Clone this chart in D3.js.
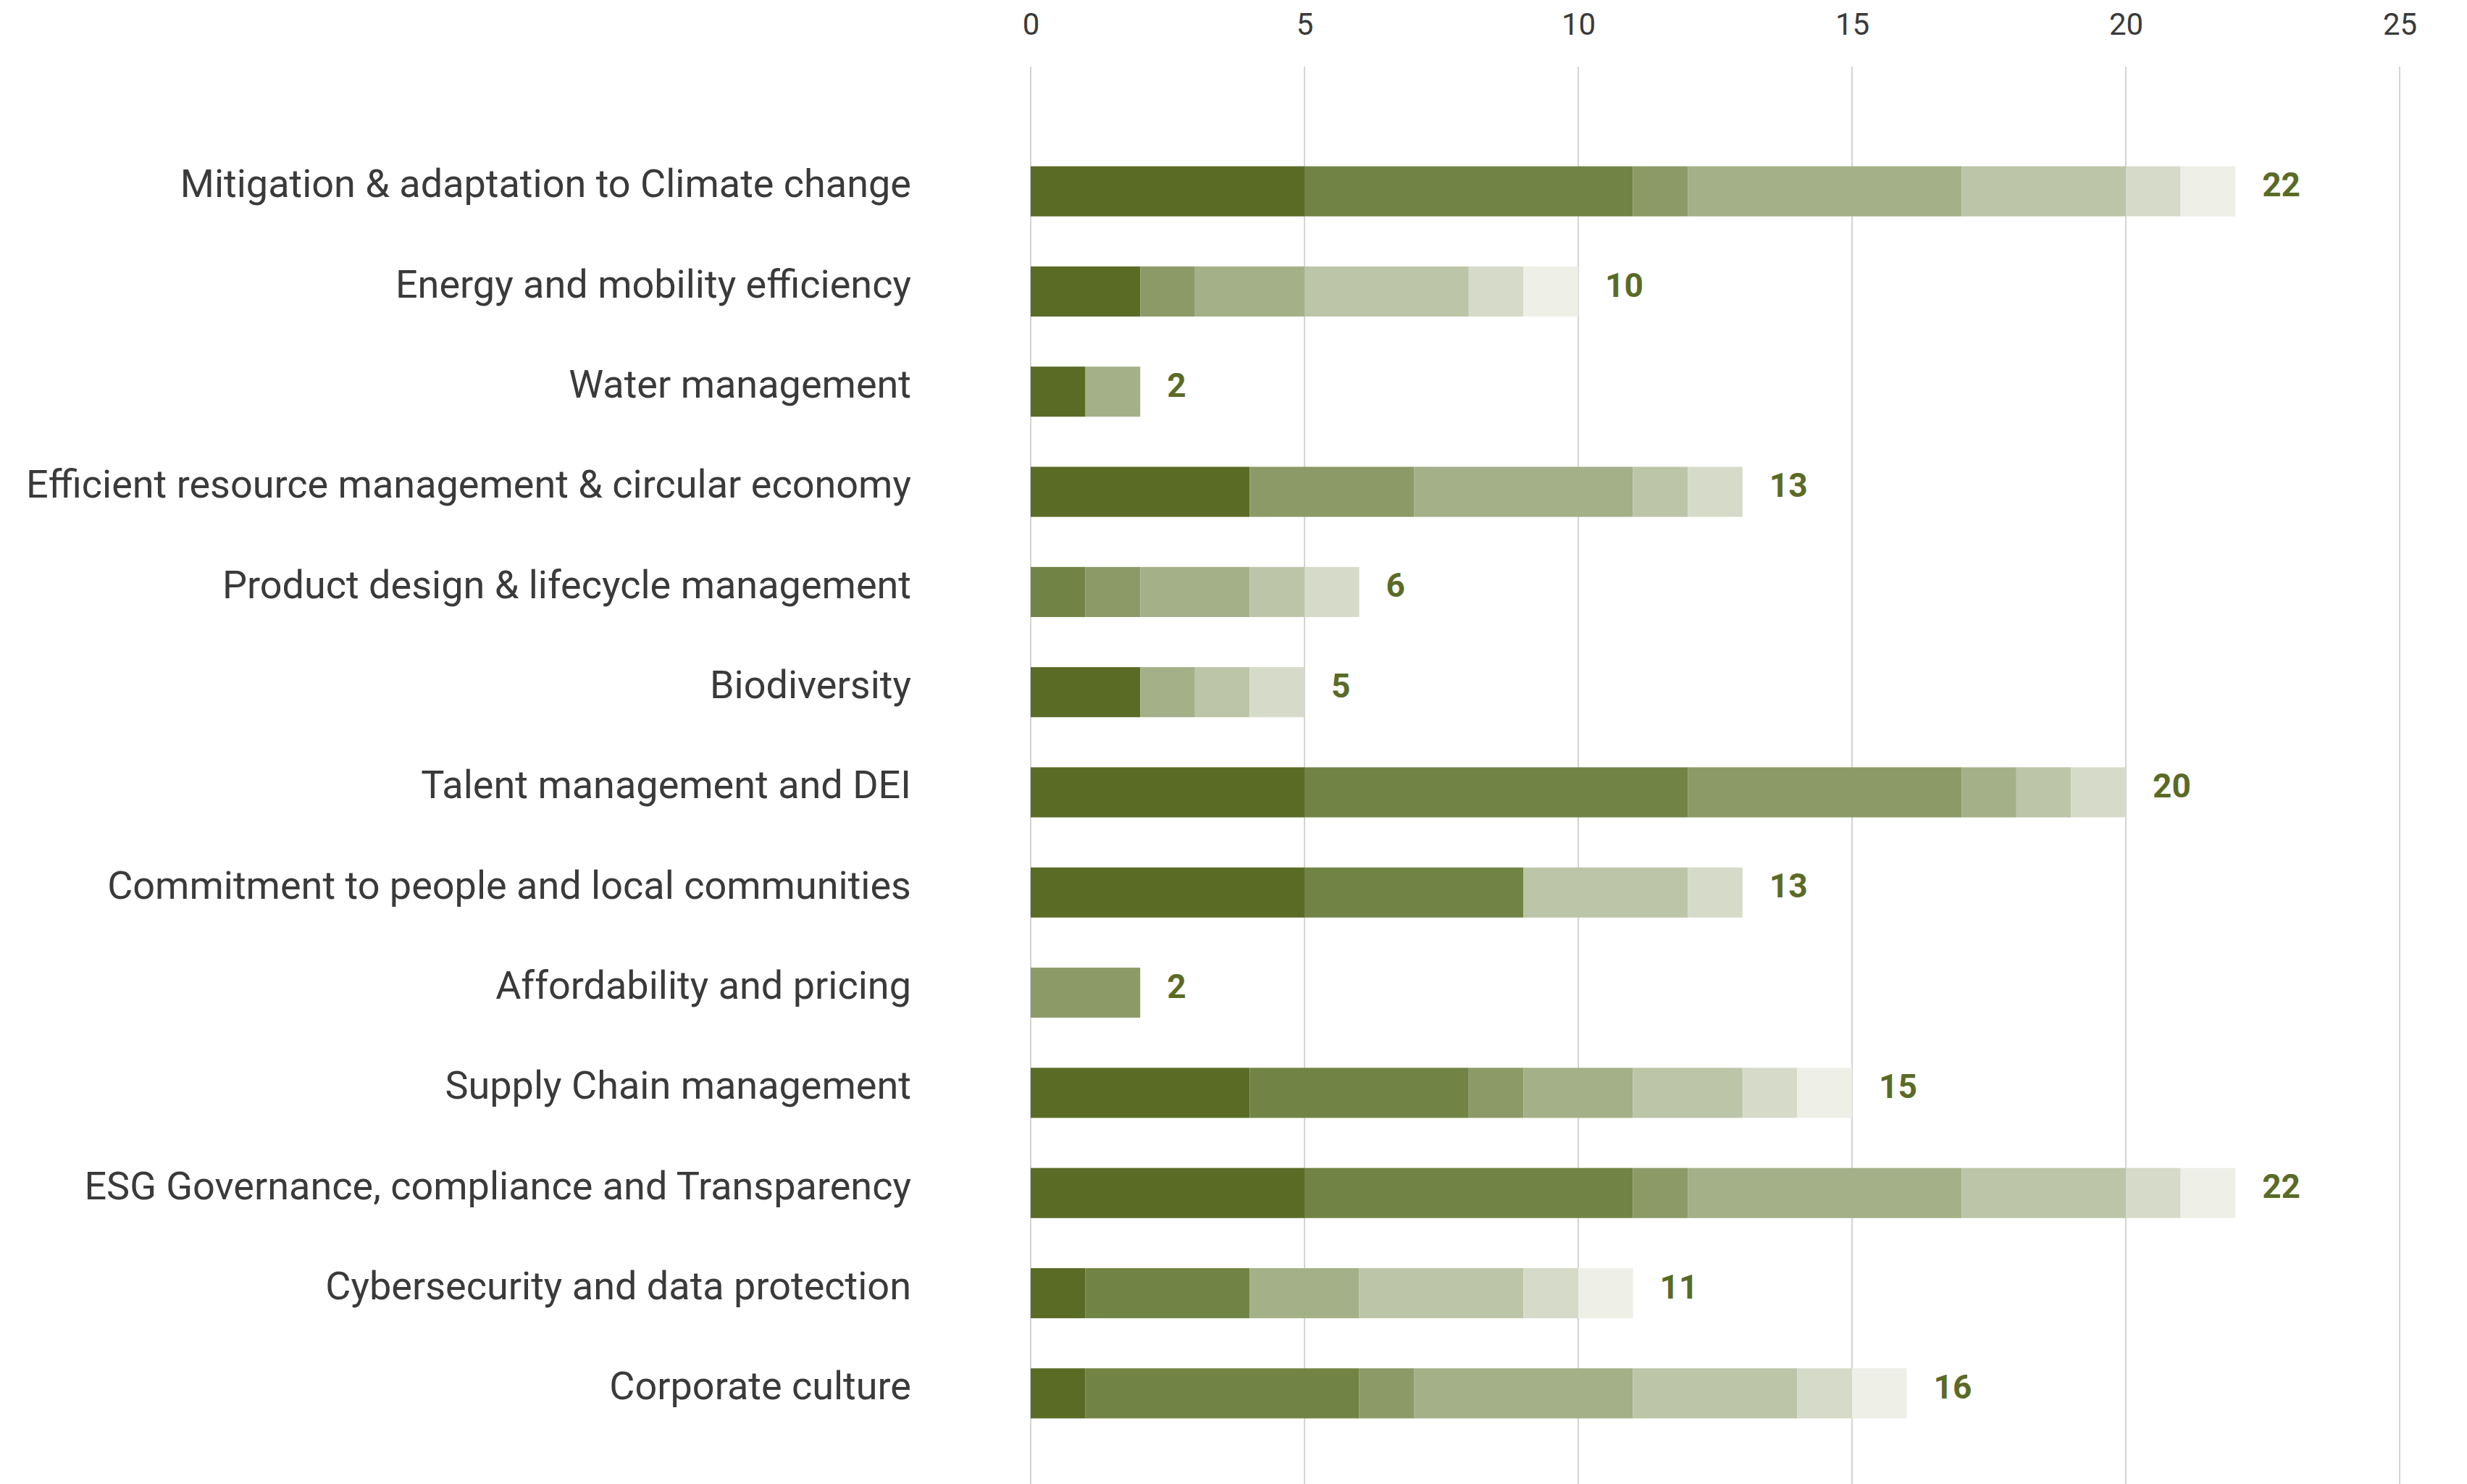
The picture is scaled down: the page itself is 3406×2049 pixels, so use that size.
<!DOCTYPE html>
<html><head><meta charset="utf-8">
<script src="https://cdn.jsdelivr.net/npm/d3@7"></script>
<style>body{margin:0;background:#fff}svg{display:block}</style>
</head><body>
<script>
const categories = [
  "Mitigation & adaptation to Climate change",
  "Energy and mobility efficiency",
  "Water management",
  "Efficient resource management & circular economy",
  "Product design & lifecycle management",
  "Biodiversity",
  "Talent management and DEI",
  "Commitment to people and local communities",
  "Affordability and pricing",
  "Supply Chain management",
  "ESG Governance, compliance and Transparency",
  "Cybersecurity and data protection",
  "Corporate culture"
];
const seriesNames = ["S1","S2","S3","S4","S5","S6","S7"];
const s1 = [5,2,1,4,0,2,5,5,0,4,5,1,1];
const s2 = [6,0,0,0,1,0,7,4,0,4,6,3,5];
const s3 = [1,1,0,3,1,0,5,0,2,1,1,0,1];
const s4 = [5,2,1,4,2,1,1,0,0,2,5,2,4];
const s5 = [3,3,0,1,1,1,1,3,0,2,3,3,3];
const s6 = [1,1,0,1,1,1,1,1,0,1,1,1,1];
const s7 = [1,1,0,0,0,0,0,0,0,1,1,1,1];
const xTicks = [0,5,10,15,20,25];
const colors = ["#5A6B26","#728445","#8C9A68","#A4B088","#BCC5A8","#D6DBC9","#EEEFE7"];

const W = 3406, H = 2049;
const seriesVals = [s1,s2,s3,s4,s5,s6,s7];
const rows = categories.map((c,i)=>{
  const r = {cat:c};
  seriesNames.forEach((n,k)=> r[n] = seriesVals[k][i]);
  r.total = d3.sum(seriesVals, s=>s[i]);
  return r;
});

const svg = d3.select("body").append("svg").attr("width",W).attr("height",H);
const x = d3.scaleLinear().domain([0,25]).range([1423,3313]);
const y = d3.scaleBand().domain(categories).range([195,1993]).paddingInner(0.5).paddingOuter(0.25);

// gridlines
svg.append("g").selectAll("line").data(xTicks).join("line")
  .attr("x1",d=>x(d)).attr("x2",d=>x(d)).attr("y1",92).attr("y2",H)
  .attr("stroke","#d4d4d4").attr("stroke-width",2);

// top axis labels
const ax = svg.append("g").attr("transform","translate(0,48)")
  .call(d3.axisTop(x).tickValues(xTicks).tickSize(0).tickPadding(0));
ax.select(".domain").remove();
ax.selectAll("text").attr("font-family","Roboto, sans-serif").attr("font-size",42)
  .attr("fill","#3a3a3a").attr("dy","0");

// stacked bars
const stack = d3.stack().keys(seriesNames)(rows);
svg.append("g").selectAll("g").data(stack).join("g")
  .attr("fill",(d,i)=>colors[i])
  .selectAll("rect").data(d=>d).join("rect")
  .attr("x",d=>x(d[0])).attr("width",d=>x(d[1])-x(d[0]))
  .attr("y",d=>y(d.data.cat)).attr("height",y.bandwidth());

// category labels
const ay = svg.append("g").attr("transform","translate(1258,-9)")
  .call(d3.axisLeft(y).tickSize(0).tickPadding(0));
ay.select(".domain").remove();
ay.selectAll("text").attr("font-family","Roboto, sans-serif").attr("font-size",54)
  .attr("fill","#3a3a3a");

// totals
svg.append("g").selectAll("text").data(rows).join("text")
  .attr("x",d=>x(d.total)+37).attr("y",d=>y(d.cat)+y.bandwidth()/2-9)
  .attr("dy","0.35em").attr("font-family","Roboto, sans-serif").attr("font-weight","bold")
  .attr("font-size",46).attr("fill","#5A6B26").text(d=>d.total);
</script>
</body></html>
